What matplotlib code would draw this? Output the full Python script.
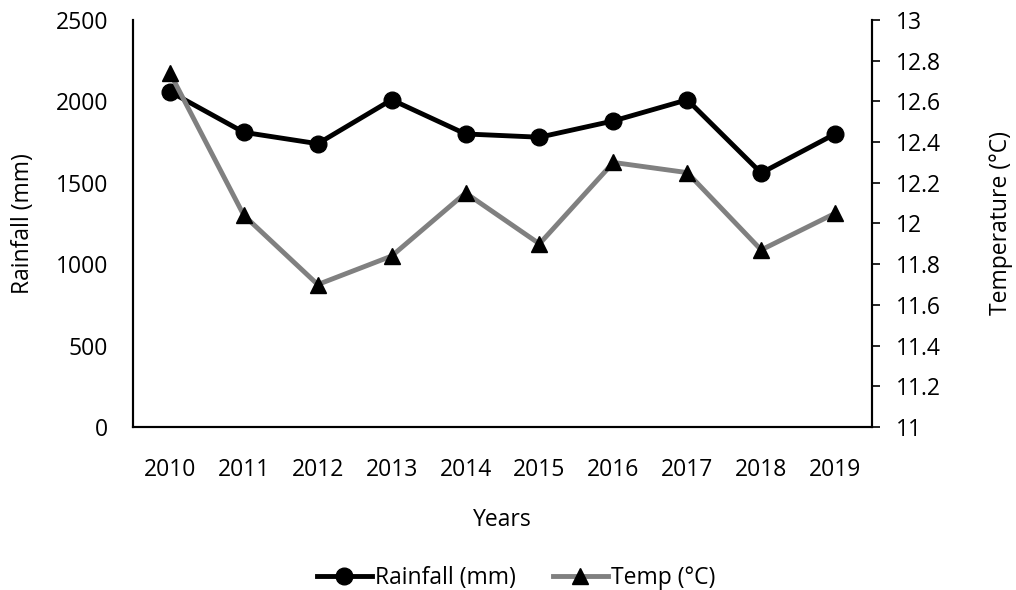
import matplotlib.pyplot as plt

plt.rcParams["font.family"] = ["Open Sans", "DejaVu Sans"]

years = ["2010", "2011", "2012", "2013", "2014", "2015", "2016", "2017", "2018", "2019"]
rainfall = [2060, 1810, 1740, 2010, 1800, 1780, 1880, 2010, 1560, 1800]
temp = [12.74, 12.04, 11.70, 11.84, 12.15, 11.90, 12.30, 12.25, 11.87, 12.05]

fs = 16.5

fig = plt.figure(figsize=(10.16, 5.9), dpi=100)
ax = fig.add_axes([0.1309, 0.2763, 0.7274, 0.6898])
ax2 = ax.twinx()

x = range(len(years))
l1, = ax.plot(x, rainfall, color="black", lw=3.5, marker="o", ms=12, label="Rainfall (mm)")
l2, = ax2.plot(x, temp, color="#808080", lw=3.5, marker="^", ms=12,
               mfc="black", mec="black", label="Temp (°C)")

ax.set_xlim(-0.5, len(years) - 0.5)
ax.set_ylim(0, 2500)
ax.set_yticks(range(0, 2501, 500))
ax2.set_ylim(11, 13)
ax2.set_yticks([11 + 0.2 * i for i in range(11)])
ax2.set_yticklabels(["11", "11.2", "11.4", "11.6", "11.8", "12", "12.2", "12.4", "12.6", "12.8", "13"])
ax.set_xticks(list(x))
ax.set_xticklabels(years)

for a in (ax, ax2):
    a.spines["top"].set_visible(False)
    for s in a.spines.values():
        s.set_linewidth(1.5)
ax.tick_params(axis="x", length=0, labelsize=fs, pad=22)
ax.tick_params(axis="y", length=0, labelsize=fs, pad=18)
ax2.tick_params(axis="y", length=6, width=1.2, labelsize=fs, pad=11)

ax.set_xlabel("Years", fontsize=fs, va="center")
ax.xaxis.set_label_coords(0.5, -0.2285)
ax.set_ylabel("Rainfall (mm)", fontsize=fs, va="center")
ax.yaxis.set_label_coords(-0.149, 0.5)
ax2.set_ylabel("Temperature (°C)", fontsize=fs, va="center")
ax2.yaxis.set_label_coords(1.1746, 0.5)

fig.legend(handles=[l1, l2], loc="center", bbox_to_anchor=(0.508, 0.0203), ncol=2,
           frameon=False, fontsize=fs, handlelength=2.4, handletextpad=0.15, columnspacing=1.6)

fig.savefig("out.png")
